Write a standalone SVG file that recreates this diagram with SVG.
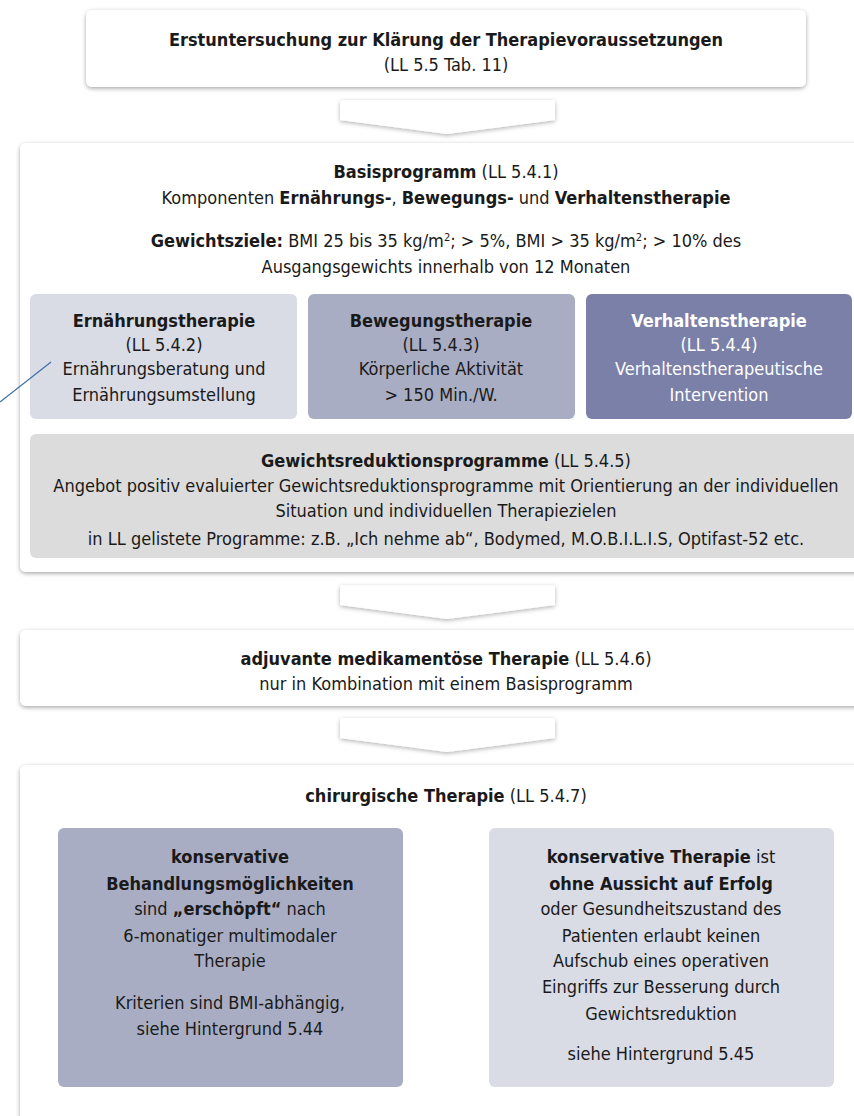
<svg xmlns="http://www.w3.org/2000/svg" width="854" height="1116" viewBox="0 0 854 1116">
<defs>
<filter id="sh" x="-10%" y="-10%" width="120%" height="130%">
<feDropShadow dx="0" dy="1.5" stdDeviation="2" flood-color="#000" flood-opacity="0.35"/>
</filter>
<filter id="sha" x="-10%" y="-20%" width="120%" height="150%">
<feDropShadow dx="0" dy="1.5" stdDeviation="2" flood-color="#000" flood-opacity="0.3"/>
</filter>
<style>
text{font-family:"Liberation Sans Narrow","DejaVu Sans Condensed","Liberation Sans",sans-serif;font-size:18px;fill:#1a1a1a;text-anchor:middle}
.b{font-weight:bold}
.w{fill:#ffffff}
.frame{fill:#ffffff;filter:url(#sh)}
.c1{fill:#d9dbe5}
.c2{fill:#a9adc3}
.c3{fill:#7b80a8}
.c4{fill:#dcdcdc}
.arr{fill:#ffffff;filter:url(#sha)}
</style>
</defs>
<rect width="854" height="1116" fill="#ffffff"/>

<g id="n-erstuntersuchung">
<rect class="frame" x="86" y="10" width="720" height="77" rx="6"/>
<text class="b" x="446" y="46">Erstuntersuchung zur Klärung der Therapievoraussetzungen</text>
<text x="446" y="71">(LL 5.5 Tab. 11)</text>
</g>

<g id="n-basisprogramm">
<rect class="frame" x="20" y="143" width="850" height="429" rx="6"/>
<text x="446" y="178"><tspan class="b">Basisprogramm</tspan> (LL 5.4.1)</text>
<text x="446" y="204">Komponenten <tspan class="b">Ernährungs-</tspan>, <tspan class="b">Bewegungs-</tspan> und <tspan class="b">Verhaltenstherapie</tspan></text>
<text x="446" y="247"><tspan class="b">Gewichtsziele:</tspan> BMI 25 bis 35 kg/m<tspan dy="-6" font-size="11">2</tspan><tspan dy="6">; &gt; 5%, BMI &gt; 35 kg/m</tspan><tspan dy="-6" font-size="11">2</tspan><tspan dy="6">; &gt; 10% des</tspan></text>
<text x="446" y="273">Ausgangsgewichts innerhalb von 12 Monaten</text>
</g>

<g id="n-ernaehrung">
<rect class="c1" x="30" y="294" width="267" height="125" rx="6"/>
<text class="b" x="164" y="327">Ernährungstherapie</text>
<text x="164" y="351">(LL 5.4.2)</text>
<text x="164" y="375">Ernährungsberatung und</text>
<text x="164" y="401">Ernährungsumstellung</text>
</g>

<g id="n-bewegung">
<rect class="c2" x="308" y="294" width="267" height="125" rx="6"/>
<text class="b" x="441" y="327">Bewegungstherapie</text>
<text x="441" y="351">(LL 5.4.3)</text>
<text x="441" y="375">Körperliche Aktivität</text>
<text x="441" y="401">&gt; 150 Min./W.</text>
</g>

<g id="n-verhalten">
<rect class="c3" x="586" y="294" width="266" height="125" rx="6"/>
<text class="b w" x="719" y="327">Verhaltenstherapie</text>
<text class="w" x="719" y="351">(LL 5.4.4)</text>
<text class="w" x="719" y="375">Verhaltenstherapeutische</text>
<text class="w" x="719" y="401">Intervention</text>
</g>

<g id="n-gewichtsreduktion">
<rect class="c4" x="30" y="434" width="830" height="124" rx="6"/>
<text x="446" y="467"><tspan class="b">Gewichtsreduktionsprogramme</tspan> (LL 5.4.5)</text>
<text x="446" y="492">Angebot positiv evaluierter Gewichtsreduktionsprogramme mit Orientierung an der individuellen</text>
<text x="446" y="517">Situation und individuellen Therapiezielen</text>
<text x="446" y="545">in LL gelistete Programme: z.B. „Ich nehme ab“, Bodymed, M.O.B.I.L.I.S, Optifast-52 etc.</text>
</g>

<g id="n-adjuvant">
<rect class="frame" x="20" y="630" width="850" height="76" rx="6"/>
<text x="446" y="665"><tspan class="b">adjuvante medikamentöse Therapie</tspan> (LL 5.4.6)</text>
<text x="446" y="690">nur in Kombination mit einem Basisprogramm</text>
</g>

<g id="n-chirurgisch">
<rect class="frame" x="20" y="765" width="850" height="370" rx="6"/>
<text x="446" y="802"><tspan class="b">chirurgische Therapie</tspan> (LL 5.4.7)</text>
</g>

<g id="n-erschoepft">
<rect class="c2" x="58" y="828" width="345" height="259" rx="6"/>
<text class="b" x="230" y="863">konservative</text>
<text class="b" x="230" y="890">Behandlungsmöglichkeiten</text>
<text x="230" y="915">sind <tspan class="b">„erschöpft“</tspan> nach</text>
<text x="230" y="942">6-monatiger multimodaler</text>
<text x="230" y="967">Therapie</text>
<text x="230" y="1009">Kriterien sind BMI-abhängig,</text>
<text x="230" y="1035">siehe Hintergrund 5.44</text>
</g>

<g id="n-ohne-aussicht">
<rect class="c1" x="489" y="828" width="345" height="259" rx="6"/>
<text x="661" y="863"><tspan class="b">konservative Therapie</tspan> ist</text>
<text class="b" x="661" y="890">ohne Aussicht auf Erfolg</text>
<text x="661" y="915">oder Gesundheitszustand des</text>
<text x="661" y="942">Patienten erlaubt keinen</text>
<text x="661" y="967">Aufschub eines operativen</text>
<text x="661" y="993">Eingriffs zur Besserung durch</text>
<text x="661" y="1020">Gewichtsreduktion</text>
<text x="661" y="1060">siehe Hintergrund 5.45</text>
</g>

<g id="connectors">
<path class="arr" d="M343,100 H552 Q555,100 555,103 V120 L447,134 L340,120 V103 Q340,100 343,100 Z"/>
<path class="arr" d="M343,585 H552 Q555,585 555,588 V605 L447,619 L340,605 V588 Q340,585 343,585 Z"/>
<path class="arr" d="M343,718 H552 Q555,718 555,721 V738 L447,752 L340,738 V721 Q340,718 343,718 Z"/>
<line x1="0" y1="402" x2="51" y2="362" stroke="#3d6fa8" stroke-width="1.2"/>
</g>
</svg>
